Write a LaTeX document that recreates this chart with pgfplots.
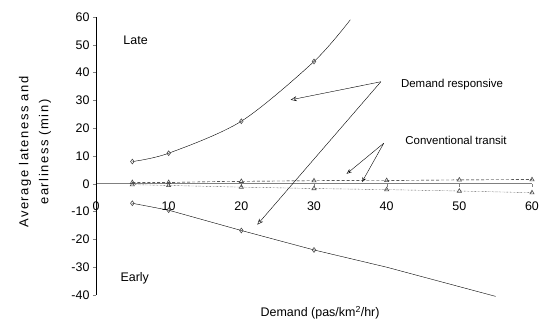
\documentclass[border=0pt]{standalone}
\usepackage{pgfplots}
\pgfplotsset{compat=1.18}
\usepackage{fontspec}
\setmainfont{Liberation Sans}
\usetikzlibrary{arrows.meta,calc}
\begin{document}
\begin{tikzpicture}
\begin{axis}[
  scale only axis, width=436bp, height=278bp,
  xmin=0, xmax=60, ymin=-40, ymax=60,
  axis x line=middle, axis y line=left,
  axis line style={-},
  x axis line style={gray, line width=0.9pt},
  hide obscured x ticks=false,
  xtick={0,10,...,60}, ytick={-40,-30,...,60},
  tick align=outside, major tick length=3bp,
  /pgf/number format/assume math mode=true,
  tick label style={font=\fontsize{12.5}{14}\selectfont},
  xticklabel style={yshift=-11bp},
  xlabel={Demand (pas/km\textsuperscript{2}/hr)},
  xlabel style={font=\fontsize{12.5}{14}\selectfont, at={(axis description cs:0.514,0)}, anchor=center, yshift=-18bp},
  ylabel={Average lateness and\\earliness (min)},
  ylabel style={font=\fontsize{13}{20}\selectfont\addfontfeatures{LetterSpace=12}, align=center, at={(axis description cs:-0.14,0.514)}, anchor=center},
  clip=false,
]
% Demand responsive - late
\addplot[black, thin, smooth, mark=diamond, mark size=2.4pt, mark options={solid, semithick, gray!60!black}, mark indices={1,2,3,4}]
  coordinates {(5,8) (10,11) (20,22.5) (30,44) (35,59)};
% Demand responsive - early
\addplot[black, thin, mark=diamond, mark size=2.4pt, mark options={solid, semithick, gray!60!black}, mark indices={1,2,3,4}]
  coordinates {(5,-7) (10,-9.5) (20,-16.8) (30,-23.8) (40,-30) (50,-37) (55,-40.5)};
% Conventional transit - upper dashed
\addplot[black, densely dashed, thin, mark=triangle, mark size=2.4pt, mark options={solid, semithick, gray!60!black}]
  coordinates {(5,0.5) (10,0.5) (20,0.9) (30,1.1) (40,1.2) (50,1.4) (60,1.5)};
% Conventional transit - lower dotted
\addplot[black, densely dotted, thin, mark=triangle, mark size=2.4pt, mark options={solid, semithick, gray!60!black}]
  coordinates {(5,-0.3) (10,-0.6) (20,-1.2) (30,-1.7) (40,-2.1) (50,-2.6) (60,-3.2)};
% texts
\node[anchor=west, font=\fontsize{12.5}{14}\selectfont] at (axis cs:3.3,51.8) {Late};
\node[anchor=west, font=\fontsize{12.5}{14}\selectfont] at (axis cs:2.9,-34) {Early};
\node[anchor=west, font=\fontsize{11.5}{13}\selectfont] at (axis cs:41.5,35.6) {Demand responsive};
\node[anchor=west, font=\fontsize{11.5}{13}\selectfont] at (axis cs:42.1,15.5) {Conventional transit};
% arrows
\draw[-{Stealth[open,length=6pt,width=5pt]}, thin] (axis cs:39.2,36.7) -- (axis cs:26.8,30.2);
\draw[-{Stealth[open,length=6pt,width=5pt]}, thin] (axis cs:39.2,36.7) -- (axis cs:22.2,-14.7);
\draw[-{Stealth[open,length=5pt,width=4pt]}, thin] (axis cs:39.6,14.6) -- (axis cs:34.5,3.6);
\draw[-{Stealth[open,length=5pt,width=4pt]}, thin] (axis cs:39.6,14.6) -- (axis cs:36.6,0.6);
\end{axis}
\path[use as bounding box] ($(current axis.south west)+(-96bp,-32bp)$) rectangle ($(current axis.north east)+(19bp,17bp)$);
\end{tikzpicture}
\end{document}
